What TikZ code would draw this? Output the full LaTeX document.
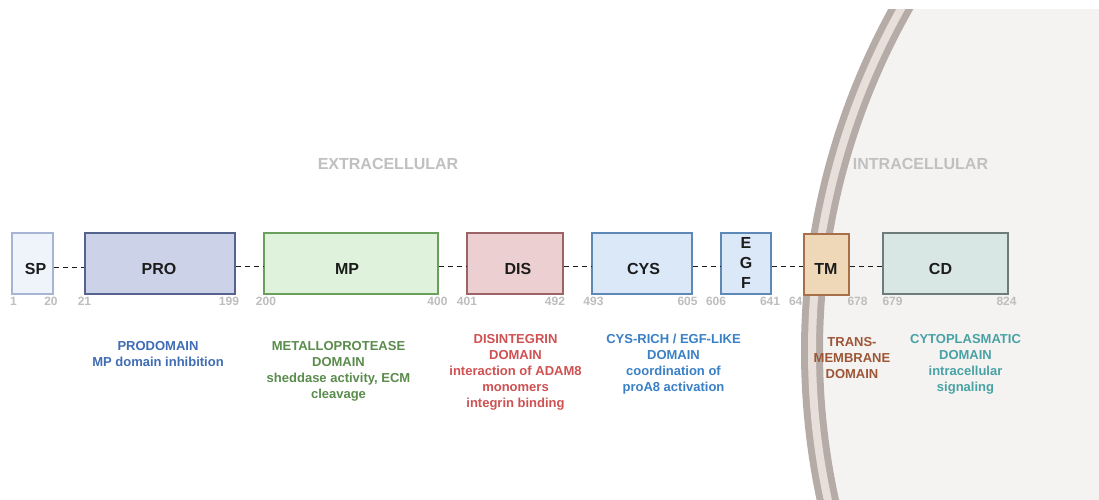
\documentclass[tikz,border=0pt]{standalone}
\usepackage{fontspec}
\setmainfont{Liberation Sans}
\usepackage{tikz}
\definecolor{ink}{HTML}{1C1C1C}
\definecolor{numgray}{HTML}{BEBEBE}
\definecolor{sidegray}{HTML}{C0C0C0}
\definecolor{cellin}{HTML}{F5F3F2}
\definecolor{memdark}{HTML}{B6ACA7}
\definecolor{memlight}{HTML}{E8DFDB}
\definecolor{spfill}{HTML}{EFF3FA}
\definecolor{spline}{HTML}{A7B5D4}
\definecolor{profill}{HTML}{CCD3E8}
\definecolor{proline}{HTML}{56638E}
\definecolor{mpfill}{HTML}{DFF3DC}
\definecolor{mpline}{HTML}{6A9F5E}
\definecolor{disfill}{HTML}{ECCFD0}
\definecolor{disline}{HTML}{9A6466}
\definecolor{cysfill}{HTML}{DBE8F7}
\definecolor{cysline}{HTML}{5E88B5}
\definecolor{tmfill}{HTML}{EFD8B7}
\definecolor{tmline}{HTML}{A8704A}
\definecolor{cdfill}{HTML}{D9E7E4}
\definecolor{cdline}{HTML}{6D7B79}
\definecolor{prodesc}{HTML}{3F6CB4}
\definecolor{mpdesc}{HTML}{5A8C4C}
\definecolor{disdesc}{HTML}{CF5152}
\definecolor{cysdesc}{HTML}{3A80C6}
\definecolor{tmdesc}{HTML}{9C5636}
\definecolor{cddesc}{HTML}{48A2A4}

\begin{document}
\begin{tikzpicture}[x=1pt,y=-1pt]
            \tikzstyle{every node}+=[inner sep=0pt]
            \tikzstyle{dom}=[draw, line width=1.2pt, minimum height=61pt]
            \tikzstyle{tag}=[font=\fontsize{16}{20}\selectfont\bfseries, text=ink]
            \tikzstyle{num}=[font=\fontsize{12}{14}\selectfont\bfseries, text=numgray, anchor=base]
            \tikzstyle{desc}=[font=\fontsize{13}{16}\selectfont\bfseries, align=center, anchor=north]
            \tikzstyle{side}=[font=\fontsize{16}{20}\selectfont\bfseries, text=sidegray]
            \tikzstyle{link}=[ink, line width=1.9pt, dash pattern=on 5pt off 4pt]
            \fill [white] (0,0) rectangle (1099,500);
            \begin{scope}
            \clip (0,10) rectangle (1099,500);
            \fill [cellin] (1514,351) circle (691);
            \end{scope}
            \node [side] (extra) at (388,164) {EXTRACELLULAR};
            \node [side] (intra) at (920.5,164) {INTRACELLULAR};
            \node [num] (n1) at (13.5,305) {1};
            \node [num] (n20) at (51,305) {20};
            \node [num] (n21) at (84.5,305) {21};
            \node [num] (n199) at (229,305) {199};
            \node [num] (n200) at (266,305) {200};
            \node [num] (n400) at (437.5,305) {400};
            \node [num] (n401) at (467,305) {401};
            \node [num] (n492) at (555,305) {492};
            \node [num] (n493) at (593.5,305) {493};
            \node [num] (n605) at (687.5,305) {605};
            \node [num] (n606) at (716,305) {606};
            \node [num] (n641) at (770,305) {641};
            \node [num] (n642) at (799,305) {642};
            \node [num] (n678) at (857.5,305) {678};
            \node [num] (n679) at (892.5,305) {679};
            \node [num] (n824) at (1006.5,305) {824};
            \begin{scope}
            \clip (0,10) rectangle (1099,500);
            \draw [memdark, line width=22pt] (1514,351) circle (702);
            \draw [memlight, line width=8pt] (1514,351) circle (702);
            \end{scope}
            \node [dom, fill=spfill, draw=spline, minimum width=41pt] (sp) at (32.5,263.5) {};
            \node [dom, fill=profill, draw=proline, minimum width=150pt] (pro) at (160,263.5) {};
            \node [dom, fill=mpfill, draw=mpline, minimum width=174pt] (mp) at (351,263.5) {};
            \node [dom, fill=disfill, draw=disline, minimum width=96pt] (dis) at (515,263.5) {};
            \node [dom, fill=cysfill, draw=cysline, minimum width=100pt] (cys) at (642,263.5) {};
            \node [dom, fill=cysfill, draw=cysline, minimum width=50pt] (egf) at (746,263.5) {};
            \node [dom, fill=tmfill, draw=tmline, minimum width=45pt] (tm) at (826.5,264.5) {};
            \node [dom, fill=cdfill, draw=cdline, minimum width=125pt] (cd) at (945.5,263.5) {};
            \node [tag] (sptag) at (35.5,269.3) {SP};
            \node [tag] (protag) at (159,269.3) {PRO};
            \node [tag] (mptag) at (347,269.3) {MP};
            \node [tag] (distag) at (518,269.3) {DIS};
            \node [tag] (cystag) at (643.5,269.3) {CYS};
            \node [tag, align=center] (egftag) at (746,263) {E\\G\\F};
            \node [tag] (tmtag) at (826,268.7) {TM};
            \node [tag] (cdtag) at (940.5,269.3) {CD};
            \draw [link] ([yshift=-4pt]sp.east) -- ([yshift=-4pt]pro.west);
            \draw [link] ([yshift=-3pt]pro.east) -- ([yshift=-3pt]mp.west);
            \draw [link] ([yshift=-3pt]mp.east) -- ([yshift=-3pt]dis.west);
            \draw [link] ([yshift=-3pt]dis.east) -- ([yshift=-3pt]cys.west);
            \draw [link] ([yshift=-3pt]cys.east) -- ([yshift=-3pt]egf.west);
            \draw [link] ([yshift=-3pt]egf.east) -- ([yshift=-2pt]tm.west);
            \draw [link] ([yshift=-2pt]tm.east) -- ([yshift=-3pt]cd.west);
            \node [desc, text=prodesc] (prodescr) at (158,341) {PRODOMAIN\\MP domain inhibition};
            \node [desc, text=mpdesc] (mpdescr) at (338.5,341) {METALLOPROTEASE\\DOMAIN\\sheddase activity, ECM\\cleavage};
            \node [desc, text=disdesc] (disdescr) at (515.5,334) {DISINTEGRIN\\DOMAIN\\interaction of ADAM8\\monomers\\integrin binding};
            \node [desc, text=cysdesc] (cysdescr) at (673.5,334) {CYS-RICH / EGF-LIKE\\DOMAIN\\coordination of\\proA8 activation};
            \node [desc, text=tmdesc] (tmdescr) at (852,337) {TRANS-\\MEMBRANE\\DOMAIN};
            \node [desc, text=cddesc] (cddescr) at (965.5,334) {CYTOPLASMATIC\\DOMAIN\\intracellular\\signaling};
            \useasboundingbox (0,0) rectangle (1099,500);
            \end{tikzpicture}
\end{document}
